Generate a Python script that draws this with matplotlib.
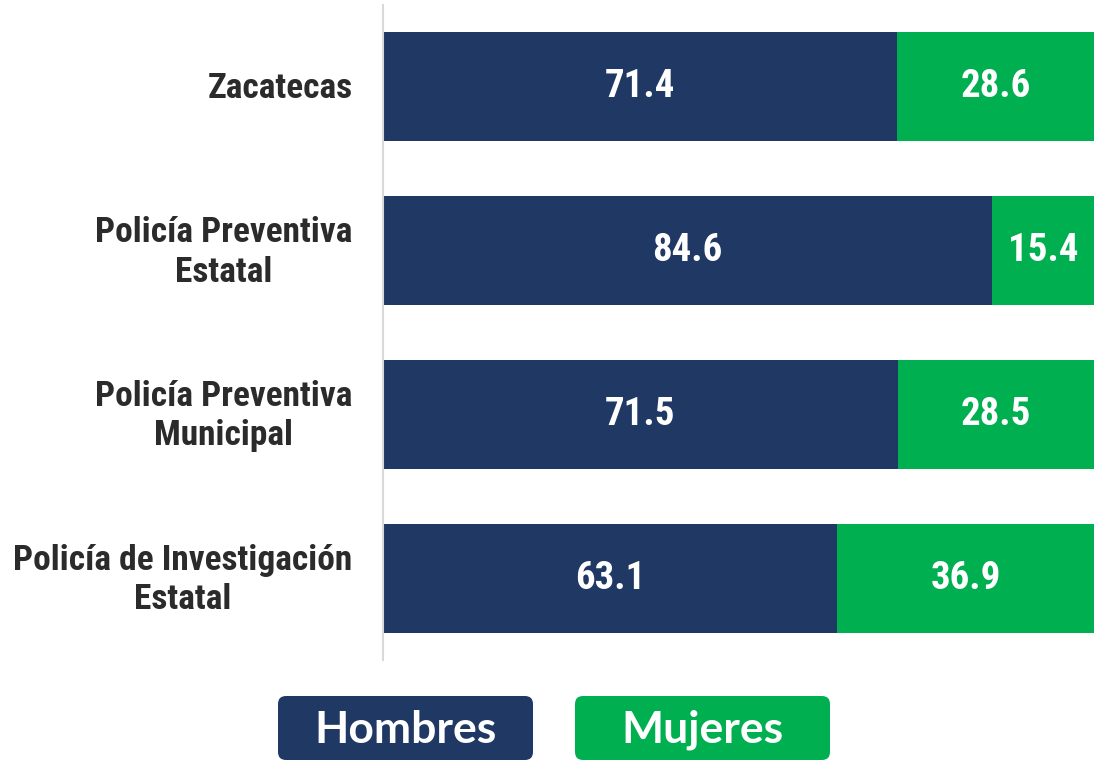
import matplotlib
matplotlib.use("Agg")
import matplotlib.pyplot as plt
from matplotlib import font_manager
from matplotlib.patches import FancyBboxPatch
from matplotlib.transforms import ScaledTranslation

categories = ["Zacatecas", "Policía Preventiva\nEstatal", "Policía Preventiva\nMunicipal",
              "Policía de Investigación\nEstatal"]
hombres = [71.4, 84.6, 71.5, 63.1]
mujeres = [28.6, 15.4, 28.5, 36.9]
series_names = ["Hombres", "Mujeres"]

NAVY = "#203864"
GREEN = "#00B050"

names = {f.name for f in font_manager.fontManager.ttflist}
narrow = None
for cand in ["Liberation Sans Narrow", "Arial Narrow", "Roboto Condensed", "DejaVu Sans Condensed",
             "Open Sans Condensed"]:
    if cand in names:
        narrow = cand
        break
if narrow:
    lab_font = dict(family=narrow, size=25.5, weight="bold")
    val_font = dict(family=narrow, size=28, weight="bold")
else:
    lab_font = dict(family="Liberation Sans", size=21)
    val_font = dict(family="Liberation Sans", size=24, weight="bold")

W, H = 1094, 762
fig = plt.figure(figsize=(W / 100, H / 100), dpi=100)
ax = fig.add_axes([383 / W, (H - 660) / H, 720 / W, 655 / H])

y = list(range(len(categories)))
ax.barh(y, hombres, height=0.666, color=NAVY)
ax.barh(y, mujeres, left=hombres, height=0.666, color=GREEN)
for i in y:
    ax.text(hombres[i] / 2, i, f"{hombres[i]:.1f}", ha="center", va="center", color="white", **val_font)
    right_center = min(hombres[i] + mujeres[i] / 2, (hombres[i] + 100 * (W - 383) / 720) / 2)
    ax.text(right_center, i, f"{mujeres[i]:.1f}", ha="center", va="center",
            color="white", **val_font)

ax.set_xlim(0, 100)
ax.set_ylim(len(categories) - 0.5, -0.5)
ax.set_xticks([])
ax.set_yticks(y)
ax.set_yticklabels(categories, color="#2b2b2b", multialignment="center", linespacing=1.25,
                   **lab_font)
ax.tick_params(axis="y", length=0, pad=22)
for lbl, cat in zip(ax.get_yticklabels(), categories):
    dy = 5 if "\n" in cat else 2
    lbl.set_transform(lbl.get_transform() + ScaledTranslation(0, dy / 100, fig.dpi_scale_trans))
for s in ["top", "right", "bottom"]:
    ax.spines[s].set_visible(False)
ax.spines["left"].set_color("#d9d9d9")
ax.spines["left"].set_linewidth(1.5)

# legend boxes drawn in a pixel-space overlay
ov = fig.add_axes([0, 0, 1, 1])
ov.set_xlim(0, W)
ov.set_ylim(H, 0)
ov.axis("off")
boxes = [(278, NAVY), (575, GREEN)]
for (x0, col), name in zip(boxes, series_names):
    p = FancyBboxPatch((x0 + 6, 702), 255 - 12, 64 - 12, boxstyle="round,pad=6,rounding_size=8",
                       facecolor=col, edgecolor="none")
    ov.add_patch(p)
    ov.text(x0 + 127.5, 730, name, ha="center", va="center", color="white", family="Lato",
            weight="bold", size=32)

fig.savefig("out.png", dpi=100)
